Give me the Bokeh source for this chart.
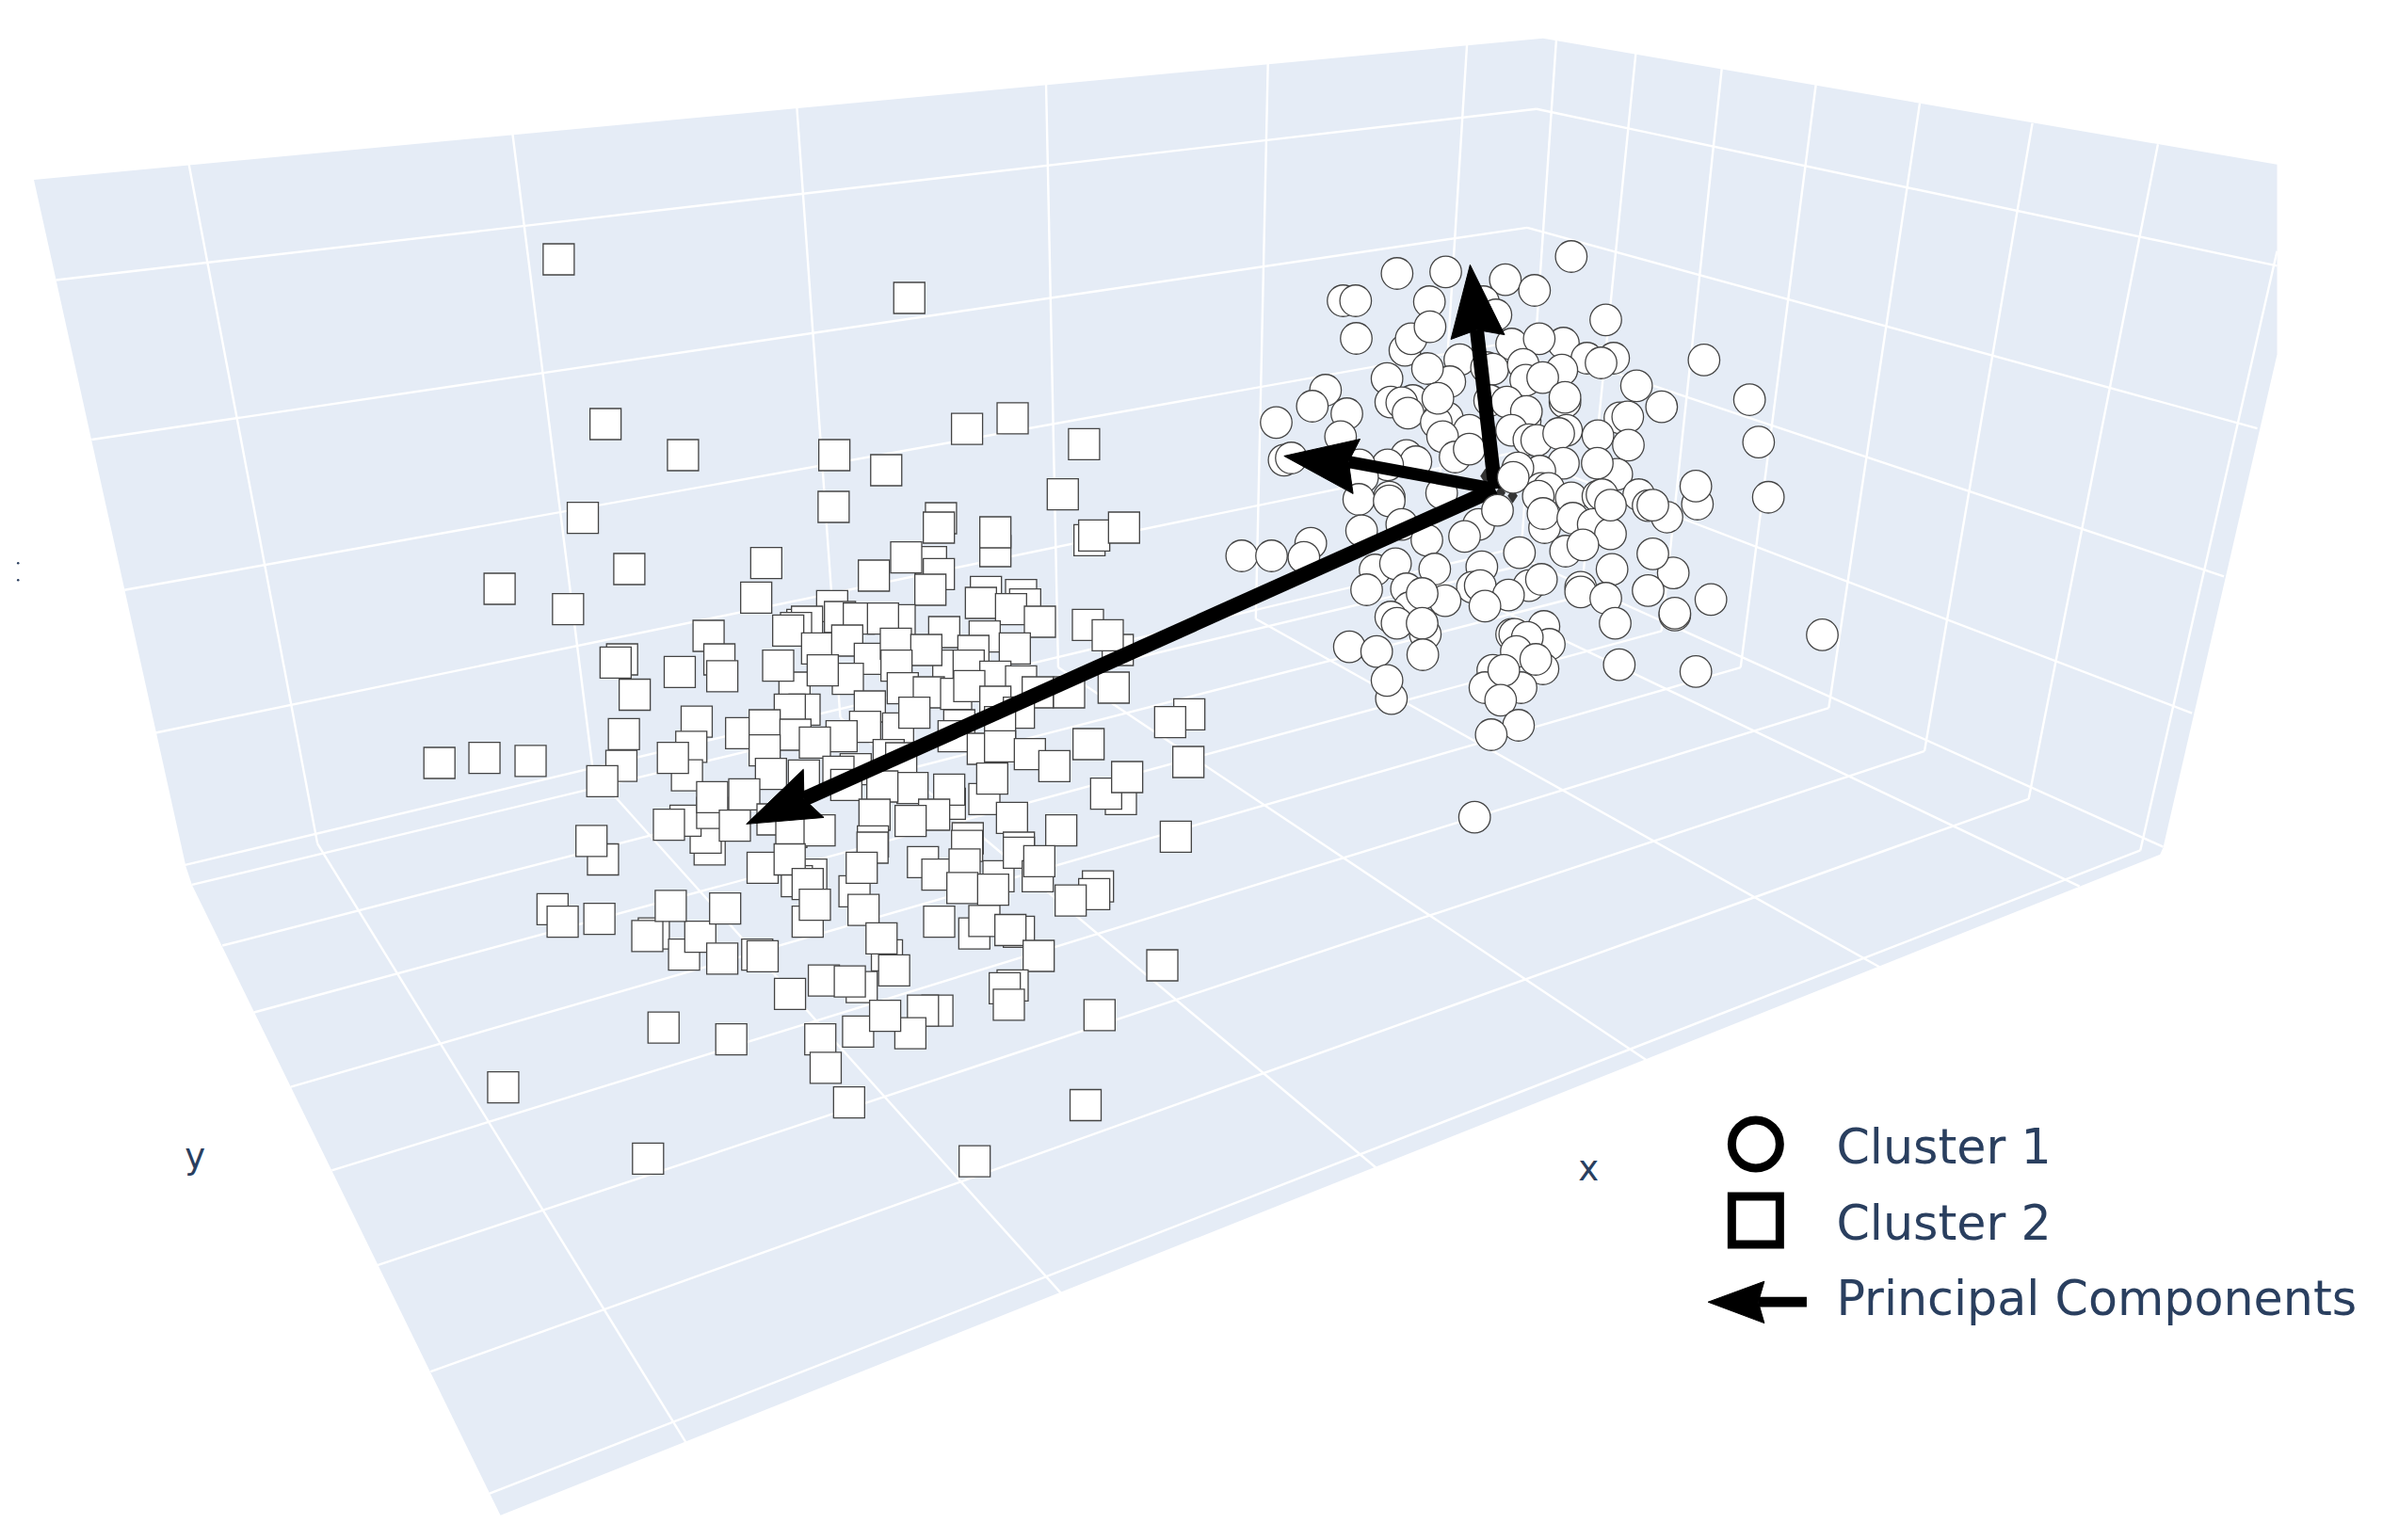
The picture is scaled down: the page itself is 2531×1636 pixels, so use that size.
from bokeh.plotting import figure
from bokeh.embed import file_html
from bokeh.resources import INLINE
from bokeh.core.properties import value
from bokeh.models import Range1d

# ---- marks, per crop: (x, y) in that crop's reading frame
cluster1_upper = [(550,180),(705,175),(895,200),(988,234),(1105,126),(378,267),(418,267),(825,270),(865,312),(653,270),(575,425),(595,388),(655,350),(420,387),(1215,328),
 (915,405),(1080,402),(1003,388),(1155,450),(1240,450),(1200,465),(1313,538),
 (518,515),(750,455),(718,525),(647,483),(835,480),(855,485),(952,470),(1075,488),(960,520),(1014,512),
 (530,590),(600,585),(565,592),(585,625),(710,640),(675,655),(680,578),(845,585),(900,590),(1085,590),(1085,575),(958,650),(962,620),(1260,640),(1285,637),(322,552),(280,603),(390,627),(165,655),(370,700),
 (915,680),(780,680),(695,700),(970,710),(995,712),(1090,680),(1065,690),(1190,697),(1287,727),
 (735,765),(780,740),(580,765),(580,760),(610,780),(520,790),(1080,785),(1250,820),(1188,785),(1005,810),(935,800),(430,790),(440,830),
 (190,775),(213,768),(1010,865),(1033,865),(1000,890),(1105,895),(1190,890),(1203,885),(1320,885),(1350,920),(692,880),(525,893),(428,900)]
cluster1_front = [(920,830),(870,935)]
cluster1_lower = [(275,140),(55,180),(150,180),(253,185),(437,100),(525,5),(565,80),(480,225),(545,205),(645,130),(670,222),(810,80),(765,118),(1020,90),(1015,45),(1110,60),(1175,80),(1230,110),(1087,165),(1142,145),(940,170),(820,215),(790,280),(815,275),(970,275),(1010,255),(905,305),(830,340),(703,323),(580,285),(590,345),(630,300),(453,288),(530,375),(550,395),(640,430),(630,395),(632,495),(1235,223),(1135,280),(1135,295),(1215,315),(1245,395),(398,470),(485,485),(532,635),(518,577),
 (915,430),(925,430),(1018,405),(1035,462),(965,440),(930,485),(1015,540),(992,510),(855,545),(830,600),(945,600),(890,545),(880,640),(937,720),(850,750),(1258,527),(797,1013)]
cluster1_right = [(193,527),(328,397),(473,507),(502,625),(533,778),(210,833),(165,800),(307,797),(302,747),(30,800),(230,988),(165,935),(150,1037),(235,1105),(235,1100),(350,1062),(302,1262),(705,1160)]

cluster2_upper = [(504,165),(1477,288),(634,690),(849,789),(1269,789),(1413,837),(571,989),(1267,954),(1565,990),(700,1152),(340,1215),(530,1280),(920,1365),(950,1440),(840,1480),(680,1440),(662,1450)]
cluster2_left = [(715,105),(958,50),(887,185),(685,222),(872,260),(860,345),(821,293),(678,317),(625,362),(173,308),(298,293),(426,302),(923,565),(912,530),(856,480),(810,492),(930,457),(930,410),(627,595),(595,540),(487,743),(515,780),(617,772),(768,815),(750,823),(852,878),(897,825),(815,733),(966,741),(958,890),(795,1095),(983,1130),(350,1273),(752,1485)]
cluster2_lowmid = [(1055,878),(1070,883),(1070,620),(1205,640),(1165,660),(1145,595),(1195,668),(1195,780),(1215,730),(1325,690),(1375,560),(1345,620),(1350,745),(1415,880),(1400,830),(1435,925),(1515,603),(1555,640),(1560,780),(1345,975),(1240,955),(1312,958),(1146,995),(1230,1130),(1335,1107),(1555,1045),(1515,1045),(1480,1112),(1410,1060),(1245,1215),(1310,1318)]
cluster2_lowright = [(80,835),(72,890),(180,925),(245,855),(305,925),(310,880),(65,960),(163,965),(497,955),(485,978),(410,997),(245,1090),(103,1095),(135,1058),(218,1085),(308,1162),(225,1250),(200,1258),(213,1307),(502,1338),(702,1190)]
cluster2_centre = [(650,0),(830,75),(830,15),(1130,40),(1145,25),(1240,0),
 (310,250),(215,310),(230,300),(195,320),(335,285),(625,110),(650,148),(800,205),(912,215),(925,245),(1125,310),(1220,390),
 (100,113),(68,223),(443,153),(546,95),(623,198),(784,240),(880,260),(972,300),(1188,343),(170,328),(525,295),(395,290),(472,290),(667,333),(796,347),(892,385),(262,385),(358,360),(430,418),(513,370),(680,440),(610,390),(760,393),
 (190,510),(138,440),(360,482),(280,455),(515,440),(745,440),(830,475),(912,490),(535,512),(618,525),(705,530),(747,505),(830,555),(965,525),(1065,525),(222,580),(175,580),(905,590),(430,570),(520,640),(572,590),(715,630),(845,620),(415,635),(20,655),(95,630),(193,660),(340,665),(255,685),(95,710),(697,665),(790,705),(845,697),(940,722),(1018,760),(1127,690),(1207,510),(1448,595),(1387,620),(1445,747),
 (490,725),(530,735),(385,770),(330,778),(220,790),(115,785),(795,865),(820,800),(685,880),(683,835),(566,830),(470,825),(355,820),(30,850),(635,915),(445,915),(560,935),(883,925),(1230,865),(1183,848),(1250,795),(1040,965),(1405,985),(742,990),(905,1020),(0,950),(120,930),(180,970),(270,965),(440,1000)]
cluster2_top = [(636,282),(666,275),(713,292),(699,325)]
cluster2_bottom = [(641,764),(714,727)]

# principal components: origin, tips, barbs and notches of the heads
pc_origin = (983.5, 321.5)
pc_tips = [(967, 174), (844.6, 299.8), (490.8, 542)]
pc_barb_a = [(954.4, 223), (894.6, 288.7), (528.3, 506)]
pc_barb_b = [(989.7, 220), (890, 324.6), (541.8, 537.7)]
pc_notch = [(971.4, 216.8), (887, 303.6), (528.7, 525.5)]
pc_widths = [15, 13, 16]
pc_shadow_x = [977, 987, 995]
pc_shadow_y = [313, 324, 326]

# 3D scene grid lines and panes
pane_x = [22, 1015, 1498, 1498, 1423, 1421, 329, 126, 122]
pane_y = [118, 25, 108, 233, 557.5, 562, 997, 582, 570]
left_wall_v = [(124,108,208.6,555),(337,88,390,508),(524,70,552.6,472),(688,55,696,439),(834,41,826,407),(965,28,943,380)]
left_wall_h = [(36.5,184,1010.7,71.4),(60,289,1004.6,149.5),(81.6,388,999,224),(102,482,994,298),(121.5,569,990,362)]
right_wall_v = [(1023.7,26,1000,372),(1076,35,1040,392),(1132.6,45,1093,415),(1194.5,55.6,1145,439),(1262.9,67.6,1203,465.6),(1337,80.7,1266,494),(1419.6,94.6,1334.5,525.6),(1498,165,1408,559.4)]
right_wall_h = [(1010.7,71.4,1498,174.6),(1004.6,149.5,1485,281.6),(999,224,1463,379),(994,298,1442,469),(990,362,1423,557)]
floor_a = [(208.6,555,451,949),(390,508,698,851),(552.6,472,906,769),(696,439,1084,698),(826,407,1238,637),(943,380,1368,583)]
floor_b = [(126,582,1000,372),(146,622,1040,392),(166.8,666,1093,415),(191,715,1145,439),(218,770,1203,465.6),(248,832.4,1266,494),(283,902.4,1334.5,525.6),(321.8,982.6,1408,559.4)]

legend_labels = ["Cluster 1", "Cluster 2", "Principal Components"]
axis_titles = ["x", "y"]

K = 2531 / 1568

def read(points, ox, oy, sx, sy):
    return [(ox + a / sx) / K for a, _ in points], [(oy + b / sy) / K for _, b in points]

def joined(*parts):
    xs, ys = [], []
    for a, b in parts:
        xs += a
        ys += b
    return xs, ys

c1x, c1y = joined(read(cluster1_upper, 1300, 230, 3, 3), read(cluster1_lower, 1300, 530, 3, 3), read(cluster1_right, 1700, 230, 3, 2.613))
c1fx, c1fy = read(cluster1_front, 1300, 230, 3, 3)
c2x, c2y = joined(
    ([a for a, _ in cluster2_top], [b for _, b in cluster2_top]),
    read(cluster2_upper, 400, 220, 2.613, 3),
    read(cluster2_left, 400, 700, 2.613, 2.8),
    read(cluster2_centre, 780, 560, 3, 3),
    read(cluster2_lowmid, 400, 700, 2.613, 2.8),
    read(cluster2_lowright, 1000, 600, 3, 2.8),
    ([a for a, _ in cluster2_bottom], [b for _, b in cluster2_bottom]),
)

p = figure(width=2515, height=1620, output_backend="svg", toolbar_location=None,
           x_range=Range1d(0, 2515 / K), y_range=Range1d(1620 / K, 0),
           x_axis_location=None, y_axis_location=None, min_border=0,
           background_fill_color="white", border_fill_color="white", outline_line_color=None)
p.xgrid.visible = False
p.ygrid.visible = False

p.patch(pane_x, pane_y, fill_color="#E5ECF6", line_color=None)
for group in (left_wall_v, left_wall_h, right_wall_v, right_wall_h, floor_a, floor_b):
    p.segment([g[0] for g in group], [g[1] for g in group], [g[2] for g in group], [g[3] for g in group],
              line_color="white", line_width=2.4)

edge = "#444444"
p.scatter(c2x, c2y, marker="square", size=33, fill_color="white", line_color=edge, line_width=1.3, line_join="miter")
p.scatter(c1x, c1y, marker="circle", size=33.5, fill_color="white", line_color=edge, line_width=1.3)
p.scatter(pc_shadow_x, pc_shadow_y, marker="diamond", size=16, fill_color="#333333", line_color=None)

for tip, a, b, n, w in zip(pc_tips, pc_barb_a, pc_barb_b, pc_notch, pc_widths):
    p.line([pc_origin[0], n[0]], [pc_origin[1], n[1]], line_color="black", line_width=w)
    p.patch([tip[0], a[0], n[0], b[0]], [tip[1], a[1], n[1], b[1]], fill_color="black", line_color="black", line_width=1)

p.scatter(c1fx, c1fy, marker="circle", size=33.5, fill_color="white", line_color=edge, line_width=1.3)

# legend
txt = "#2a3f5f"
p.scatter([1155], [752.7], marker="circle", size=51, fill_color="white", line_color="black", line_width=9)
p.scatter([1155], [802.9], marker="square", size=51, fill_color="white", line_color="black", line_width=9, line_join="miter")
p.line([1156.6, 1188.5], [856.6, 856.6], line_color="black", line_width=10.7)
p.patch([1123.6, 1160.6, 1156.6, 1160.6], [856.6, 843, 856.6, 870.5], fill_color="black", line_color="black", line_width=1)
p.text([1208, 1208, 1208], [754.5, 804.5, 854.5], text=legend_labels, text_font=value("DejaVu Sans"), text_font_size="50.7px",
       text_color=txt, text_align="left", text_baseline="alphabetic")
p.text([1045, 128], [769, 761], text=axis_titles, text_font=value("DejaVu Sans"), text_font_size="37px",
       text_color=txt, text_align="center", text_baseline="alphabetic")
p.scatter([11.6, 11.6], [370.3, 381.4], marker="circle", size=2.5, fill_color=txt, line_color=None)

open("out.html", "w").write(file_html(p, INLINE))
